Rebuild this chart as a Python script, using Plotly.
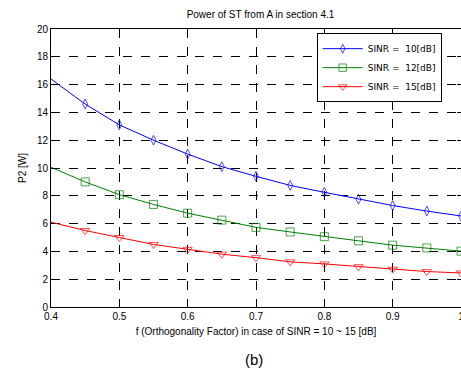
import plotly.graph_objects as go

f_vals = [0.4, 0.45, 0.5, 0.55, 0.6, 0.65, 0.7, 0.75, 0.8, 0.85, 0.9, 0.95, 1.0]
p2_sinr10 = [16.4, 14.6, 13.1, 12.0, 11.0, 10.1, 9.4, 8.75, 8.25, 7.75, 7.3, 6.9, 6.55]
p2_sinr12 = [10.05, 9.0, 8.08, 7.38, 6.75, 6.25, 5.73, 5.4, 5.06, 4.76, 4.45, 4.25, 4.02]
p2_sinr15 = [6.1, 5.5, 5.0, 4.5, 4.15, 3.8, 3.55, 3.25, 3.1, 2.9, 2.72, 2.55, 2.45]
names = ["SINR =  10[dB]", "SINR =  12[dB]", "SINR =  15[dB]"]
y_ticks = [0, 2, 4, 6, 8, 10, 12, 14, 16, 18, 20]
x_ticks = [0.4, 0.5, 0.6, 0.7, 0.8, 0.9, 1.0]
x_labels = ["0.4", "0.5", "0.6", "0.7", "0.8", "0.9", "1"]

series = [
    (p2_sinr10, "#0000ff", "diamond-tall-open", 7),
    (p2_sinr12, "#008000", "square-open", 8),
    (p2_sinr15, "#ff0000", "triangle-down-open", 8),
]

fig = go.Figure()
for (vals, col, sym, sz), nm in zip(series, names):
    sizes = [0] + [sz] * (len(f_vals) - 1)
    fig.add_trace(go.Scatter(
        x=f_vals, y=vals, mode="lines+markers", name=nm,
        line=dict(color=col, width=1),
        marker=dict(symbol=sym, size=sizes, color=col, line=dict(color=col, width=1)),
        cliponaxis=False,
    ))

font = "Liberation Sans, Arial, sans-serif"
axis_common = dict(
    showline=True, linecolor="black", linewidth=1, mirror="ticks",
    ticks="inside", ticklen=4, tickcolor="black",
    showgrid=True, gridcolor="black", griddash="dash", gridwidth=1,
    zeroline=False, automargin=False, ticklabeloverflow="allow",
    tickfont=dict(size=10, color="black", family=font),
)

fig.update_layout(
    width=461, height=377,
    margin=dict(l=51, r=0, t=29, b=70),
    paper_bgcolor="white", plot_bgcolor="white",
    title=dict(text="Power of ST from A in section 4.1", x=0.565, xanchor="center",
               y=0.962, yanchor="middle", font=dict(size=10, color="black", family=font)),
    xaxis=dict(range=[0.4, 1.0], tickvals=x_ticks, ticktext=x_labels,
               title=dict(text="f (Orthogonality Factor) in case of SINR = 10 ~ 15 [dB]",
                          font=dict(size=10, color="black", family=font), standoff=6),
               **axis_common),
    yaxis=dict(range=[0, 20], tickvals=y_ticks,
               title=dict(text="P2 [W]", font=dict(size=10, color="black", family=font), standoff=8),
               **axis_common),
    legend=dict(x=0.648, y=0.985, xanchor="left", yanchor="top",
                bgcolor="white", bordercolor="black", borderwidth=1,
                font=dict(size=9, color="black", family="DejaVu Sans, sans-serif"),
                tracegroupgap=0, itemwidth=40),
    showlegend=True,
    annotations=[dict(text="(b)", xref="paper", yref="paper", x=0.495, y=-0.19,
                      xanchor="center", yanchor="middle", showarrow=False,
                      font=dict(size=15, color="black", family=font))],
)

fig.write_html("out.html", config={"displayModeBar": False},
               post_script="document.body.style.margin='0';document.body.style.overflow='hidden';")
